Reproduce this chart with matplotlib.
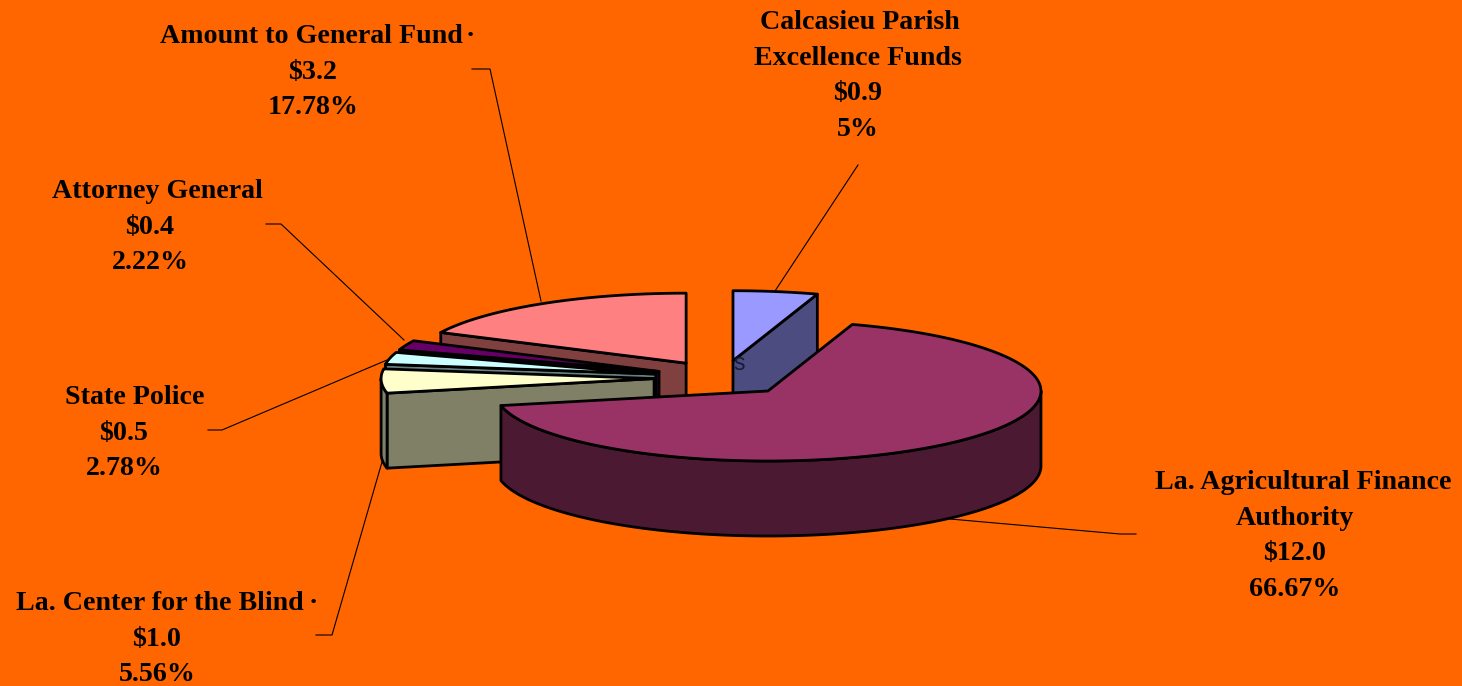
import numpy as np
import matplotlib
matplotlib.use('Agg')
import matplotlib.pyplot as plt

# values in $ millions, same order as they go round the pie (clockwise)
names = [['La. Agricultural Finance', 'Authority'], ['La. Center for the Blind'], ['State Police'],
         ['Attorney General'], ['Amount to General Fund'], ['Calcasieu Parish', 'Excellence Funds']]
values = [12.0, 1.0, 0.5, 0.4, 3.2, 0.9]
percents = ['66.67%', '5.56%', '2.78%', '2.22%', '17.78%', '5%']
top_colors = ['#993366', '#FFFFCC', '#CCFFFF', '#660066', '#FF8080', '#9999FF']
side_colors = ['#4C1933', '#808066', '#668080', '#330033', '#804040', '#4C4C80']

# label layout in pixels: x of the first line, x of the other lines, first baseline
first_x = [1303, 160, 134.5, 157.5, 311.5, 860]
rest_x = [1295, 157, 124, 150, 313, 858]
first_base = [489, 610, 404, 198, 43, 29]
line_step = 35.7

leaders = [[(950, 519), (1120, 534), (1136, 534)],
           [(382, 462), (332, 635), (316, 635)],
           [(387, 360), (222, 430), (208, 430)],
           [(404, 340), (281, 224), (266, 224)],
           [(541, 301), (490, 69), (472, 69)],
           [(775, 291), (858, 165)]]

# pie shape
cx, cy = 722.3, 378
rx, ry = 273, 70
depth = 75
explode = 0.25
first_angle = 18

fig = plt.figure(figsize=(14.62, 6.86), dpi=100, facecolor='#FF6600')
ax = fig.add_axes([0, 0, 1, 1])
ax.set_xlim(0, 1462)
ax.set_ylim(686, 0)
ax.axis('off')


def rim(x0, y0, a, b):
    t = np.radians(np.linspace(a, b, 120))
    return x0 + rx * np.sin(t), y0 - ry * np.cos(t)


def draw_slice(a, b, top, side):
    mid = np.radians((a + b) / 2)
    x0 = cx + explode * rx * np.sin(mid)
    y0 = cy - explode * ry * np.cos(mid)
    # radial faces, only the ones turned to the viewer
    for ang, show in ((a, np.sin(np.radians(a)) < 0), (b, np.sin(np.radians(b)) > 0)):
        if show:
            xe, ye = rim(x0, y0, ang, ang)
            xe, ye = xe[0], ye[0]
            ax.fill([x0, xe, xe, x0], [y0, ye, ye + depth, y0 + depth],
                    fc=side, ec='black', lw=2, joinstyle='round')
    # outer wall, front half only
    for k in (0, 360):
        lo, hi = max(a, 90 + k), min(b, 270 + k)
        if lo < hi:
            xs, ys = rim(x0, y0, lo, hi)
            ax.fill(np.r_[xs, xs[::-1]], np.r_[ys, ys[::-1] + depth],
                    fc=side, ec='black', lw=2, joinstyle='round')
    xs, ys = rim(x0, y0, a, b)
    ax.fill(np.r_[x0, xs], np.r_[y0, ys], fc=top, ec='black', lw=2, joinstyle='round')


angles = first_angle + np.r_[0, np.cumsum(values)] / np.sum(values) * 360
spans = list(zip(angles[:-1], angles[1:]))

# back to front
for i in [5, 4, 3, 2, 1, 0]:
    draw_slice(spans[i][0], spans[i][1], top_colors[i], side_colors[i])

for pts in leaders:
    ax.plot([p[0] for p in pts], [p[1] for p in pts], color='black', lw=0.8, zorder=1)

font = dict(ha='center', va='baseline', family='Liberation Serif', weight='bold',
            fontsize=20.2, color='black', zorder=5)
for i in range(len(values)):
    lines = names[i] + [f'${values[i]:.1f}', percents[i]]
    for j, line in enumerate(lines):
        x = first_x[i] if j == 0 else rest_x[i]
        ax.text(x, first_base[i] + j * line_step, line, **font)

# stray dots that sit after two of the labels
ax.text(470, 43, '·', **font)
ax.text(313, 610, '·', **font)
ax.text(739.5, 363, 's', ha='center', va='center', family='Liberation Sans', fontsize=16.5, color='#1A1A3A')

fig.savefig('out.png', dpi=100, facecolor=fig.get_facecolor())
